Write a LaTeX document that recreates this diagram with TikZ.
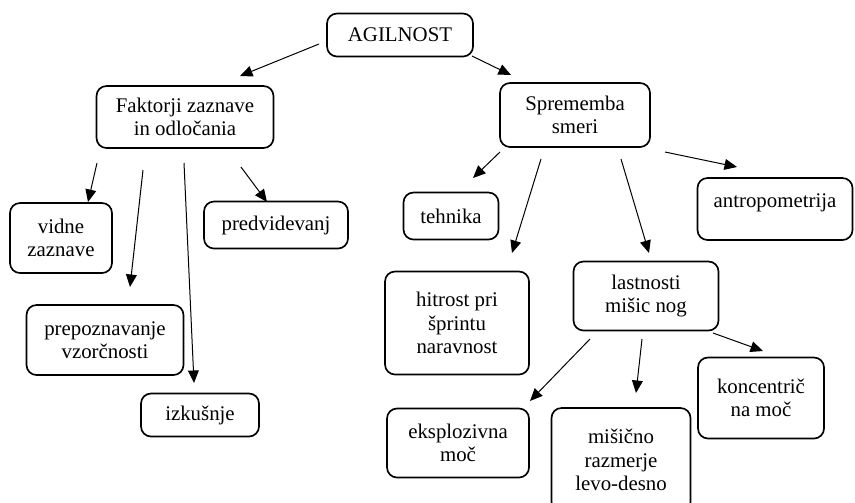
\documentclass[tikz,border=0pt]{standalone}
\usepackage{fontspec}
\setmainfont{Liberation Serif}
\usetikzlibrary{arrows.meta}

\tikzset{
  pojem/.style={draw, rounded corners=6pt, line width=1pt,
    align=center, inner sep=2pt, font=\fontsize{12.5}{14}\selectfont},
  velikost/.style 2 args={minimum width=#1*0.6pt, minimum height=#2*0.6pt},
  puscica/.style={line width=0.6pt, -{Triangle[length=7.5pt,width=6.5pt]}}
}

\begin{document}
\begin{tikzpicture}[x=0.6pt,y=-0.6pt]
\useasboundingbox (0,0) rectangle (855,502);

% Glavni pojem
\node [pojem, velikost={146}{43}] (agil) at (400,35) {AGILNOST};

% Prva raven
\node [pojem, velikost={177}{62}] (fak) at (185,117) {Faktorji zaznave\\in odločania};
\node [pojem, velikost={150}{64}] (spr) at (575,115) {Sprememba\\smeri};

% Faktorji zaznave
\node [pojem, velikost={102}{70}] (vid) at (61,238) {vidne\\zaznave};
\node [pojem, velikost={144}{47}] (pred) at (276,225) {predvidevanj};
\node [pojem, velikost={157}{70}] (prep) at (105,340) {prepoznavanje\\vzorčnosti};
\node [pojem, velikost={118}{43}] (izk) at (200,415) {izkušnje};

% Sprememba smeri
\node [pojem, velikost={95}{47}] (teh) at (451,216) {tehnika};
\node [pojem, velikost={155}{62},
    text depth=10pt] (antr) at (775,209) {antropometrija};
\node [pojem, velikost={144}{103}] (hit) at (457,323) {hitrost pri\\šprintu\\naravnost};
\node [pojem, velikost={145}{69}] (last) at (646,296) {lastnosti\\mišic nog};

% Lastnosti misic
\node [pojem, velikost={142}{69}] (eks) at (458,443) {eksplozivna\\moč};
\node [pojem, velikost={139}{104}] (mis) at (621,460) {mišično\\razmerje\\levo-desno};
\node [pojem, velikost={126}{81}] (konc) at (761,398) {koncentrič\\na moč};

% Povezave
\draw [puscica] ([shift={(-81,9)}]agil.center) -- ([shift={(55,-41)}]fak.center);
\draw [puscica] ([shift={(72,21)}]agil.center) -- ([shift={(-64,-40)}]spr.center);

\draw [puscica] ([shift={(-88,46)}]fak.center) -- ([shift={(27,-36)}]vid.center);
\draw [puscica] ([shift={(-42,53)}]fak.center) -- ([shift={(25,-53)}]prep.center);
\draw [puscica] ([shift={(-1,46)}]fak.center) -- ([shift={(-6,-32)}]izk.center);
\draw [puscica] ([shift={(56,50)}]fak.center) -- ([shift={(-9,-23)}]pred.center);

\draw [puscica] ([shift={(-75,37)}]spr.center) -- ([shift={(22,-38)}]teh.center);
\draw [puscica] ([shift={(-34,44)}]spr.center) -- ([shift={(55,-70)}]hit.center);
\draw [puscica] ([shift={(46,44)}]spr.center) -- ([shift={(3,-43)}]last.center);
\draw [puscica] ([shift={(90,37)}]spr.center) -- ([shift={(-38,-42)}]antr.center);

\draw [puscica] ([shift={(-56,43)}]last.center) -- ([shift={(72,-42)}]eks.center);
\draw [puscica] ([shift={(-4,43)}]last.center) -- ([shift={(15,-67)}]mis.center);
\draw [puscica] ([shift={(67,37)}]last.center) -- ([shift={(2,-47)}]konc.center);

\end{tikzpicture}
\end{document}
